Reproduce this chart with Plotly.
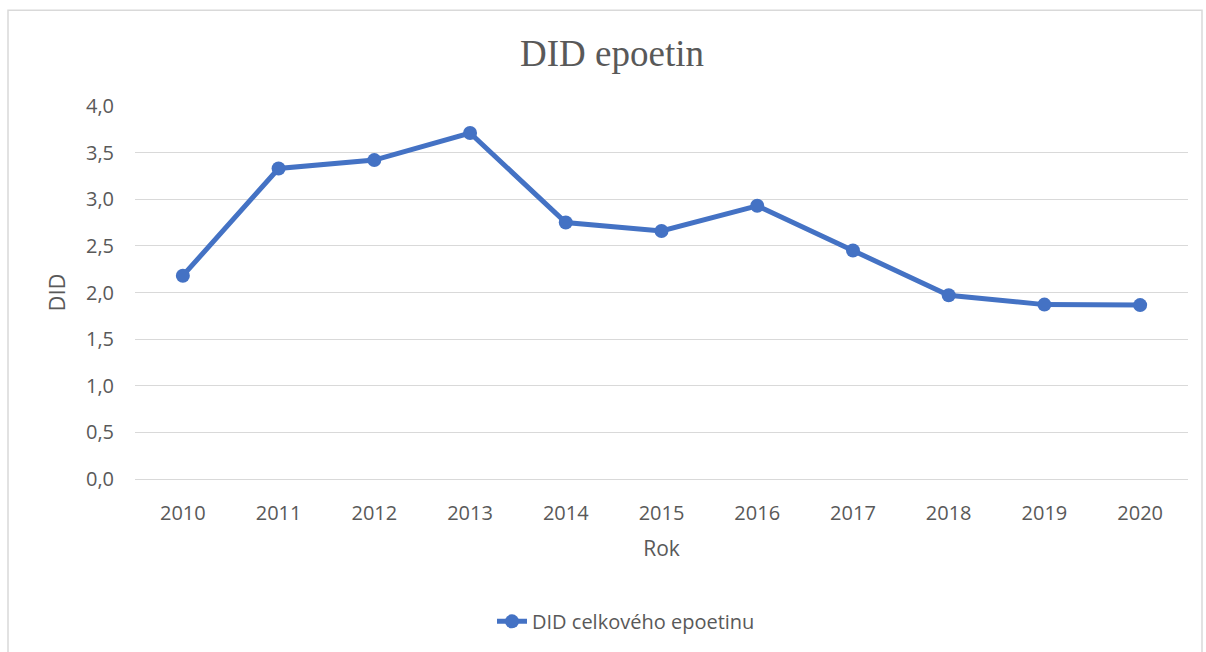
import plotly.graph_objects as go

years = ["2010", "2011", "2012", "2013", "2014", "2015", "2016", "2017", "2018", "2019", "2020"]
did_values = [2.18, 3.33, 3.42, 3.71, 2.75, 2.66, 2.93, 2.45, 1.97, 1.87, 1.865]
y_ticks = [0, 0.5, 1.0, 1.5, 2.0, 2.5, 3.0, 3.5, 4.0]
y_tick_labels = ["0,0", "0,5", "1,0", "1,5", "2,0", "2,5", "3,0", "3,5", "4,0"]

blue = "#4472C4"
gray_text = "#595959"
grid = "#D9D9D9"
font_family = "Open Sans"

fig = go.Figure()
fig.add_trace(go.Scatter(
    x=years, y=did_values, mode="lines+markers",
    name="DID celkového epoetinu",
    line=dict(color=blue, width=5),
    marker=dict(color=blue, size=14),
))

fig.update_layout(
    width=1206, height=652,
    margin=dict(l=135, r=18, t=106, b=172),
    paper_bgcolor="white", plot_bgcolor="white",
    title=dict(text="DID epoetin", x=612 / 1206, xanchor="center", y=0.918, yanchor="middle",
               font=dict(family="Liberation Serif", size=37, color=gray_text)),
    font=dict(family=font_family, size=20, color=gray_text),
    showlegend=True,
    legend=dict(orientation="h", x=(626 - 135) / 1053, xanchor="center", y=-0.378, yanchor="middle",
                font=dict(family=font_family, size=20, color=gray_text)),
    xaxis=dict(type="category", range=[-0.5, 10.5], showgrid=False, showline=True, linecolor=grid, linewidth=1,
               ticks="", ticklabelstandoff=16, tickfont=dict(size=20, color=gray_text),
               title=dict(text="Rok", font=dict(size=21, color=gray_text), standoff=16)),
    yaxis=dict(range=[0, 4.0], tickvals=y_ticks, ticktext=y_tick_labels,
               showgrid=True, gridcolor=grid, gridwidth=1, zeroline=False, showline=False,
               ticks="", ticklabelstandoff=20, tickfont=dict(size=20, color=gray_text),
               title=dict(text="DID", font=dict(size=22, color=gray_text), standoff=14)),
)

fig.add_shape(type="rect", xref="paper", yref="paper",
              x0=(8 - 135) / 1053, x1=(1202 - 135) / 1053,
              y0=(480 - 670) / 374, y1=(480 - 10) / 374,
              line=dict(color="#D9D9D9", width=1.5), fillcolor="rgba(0,0,0,0)", layer="below")

fig.write_html("out.html")
